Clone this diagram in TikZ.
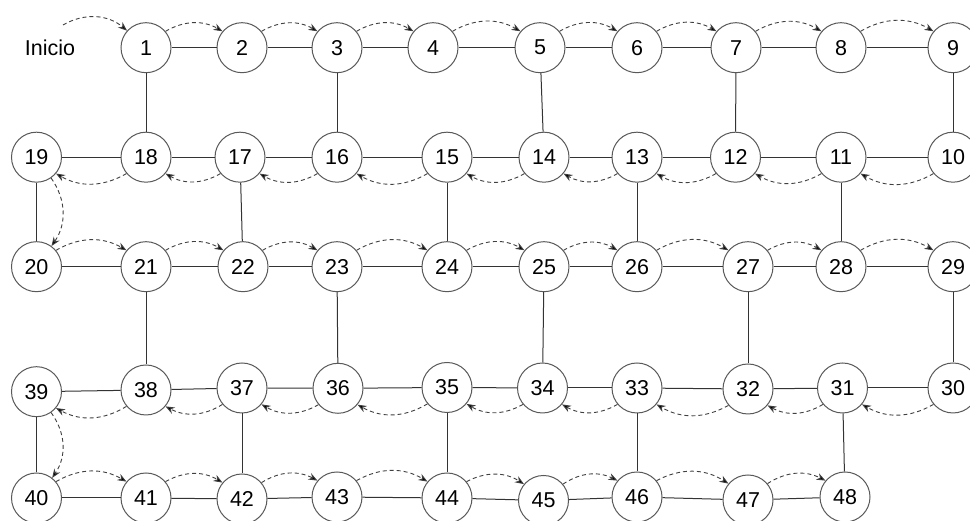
\documentclass[tikz,border=0pt]{standalone}
\usepackage{fontspec}
\setmainfont{Liberation Sans}
\usetikzlibrary{arrows.meta}
\begin{document}
\begin{tikzpicture}[x=1pt,y=1pt,
  st/.style={circle,draw=black!65,line width=1pt,minimum size=50pt,inner sep=0pt,fill=white,font=\fontsize{21.5}{25}\selectfont},
  ln/.style={draw=black!80,line width=1pt},
  da/.style={draw=black!75,line width=0.9pt,dash pattern=on 4pt off 3pt,-{Stealth[length=9pt,width=7pt,fill=black]}}]
\clip (0,0) rectangle (970,521);
\fill[white] (0,0) rectangle (970,521);
% nodes
\foreach \n/\x/\y in {
  1/146/473.3, 2/242/473.3, 3/337/473.3, 4/433/473.3, 5/540/473.3, 6/637/473.3, 7/736/473.3, 8/841/473.3, 9/953/473.3,
  19/36.5/363.8, 18/146/363.8, 17/240/363.8, 16/337/363.8, 15/447/363.8, 14/544/363.8, 13/637/363.8, 12/735.5/363.8, 11/841/363.8, 10/953/363.8,
  20/36.5/254.3, 21/146/254.3, 22/243/254.3, 23/337/254.3, 24/447/254.3, 25/544/254.3, 26/637/254.3, 27/748/254.3, 28/841/254.3, 29/953/254.3,
  39/36.5/129.3, 38/146/131, 37/242/133, 36/338/132.7, 35/447/133.5, 34/542.5/133, 33/637/133, 32/748/132, 31/842.5/133, 30/953/133,
  40/36.5/23, 41/146/23, 42/242/22, 43/337/24, 44/447/23, 45/543.5/20.5, 46/637/24, 47/748/21, 48/845/24}
  \node[st] (n\n) at (\x,\y) {\n};
\node[font=\fontsize{21.5}{25}\selectfont] (inicio) at (50,473.3) {Inicio};
\coordinate (start) at (63,496);
% solid edges
\foreach \a/\b in {1/2,2/3,3/4,4/5,5/6,6/7,7/8,8/9,
  19/18,18/17,17/16,16/15,15/14,14/13,13/12,12/11,11/10,
  20/21,21/22,22/23,23/24,24/25,25/26,26/27,27/28,28/29,
  39/38,38/37,37/36,36/35,35/34,34/33,33/32,32/31,31/30,
  40/41,41/42,42/43,43/44,44/45,45/46,46/47,47/48,
  1/18,3/16,5/14,7/12,9/10,19/20,17/22,15/24,13/26,11/28,
  21/38,23/36,25/34,27/32,29/30,39/40,37/42,35/44,33/46,31/48}
  \draw[ln] (n\a) -- (n\b);
% dashed forward (above)
\foreach \a/\b in {1/2,2/3,3/4,4/5,5/6,6/7,7/8,8/9,
  20/21,21/22,22/23,23/24,24/25,25/26,26/27,27/28,28/29,
  40/41,41/42,42/43,43/44,44/45,45/46,46/47,47/48}
  \draw[da] (n\a.40) to[bend left=30] (n\b.140);
% dashed backward (below)
\foreach \a/\b in {10/11,11/12,12/13,13/14,14/15,15/16,16/17,17/18,18/19,
  30/31,31/32,32/33,33/34,34/35,35/36,36/37,37/38,38/39}
  \draw[da] (n\a.220) to[bend left=30] (n\b.320);
% dashed downward
\draw[da] (n19.305) to[bend left=35] (n20.54);
\draw[da] (n39.305) to[bend left=35] (n40.52);
% start arrow
\draw[da] (start) to[bend left=35] (n1.138);
\end{tikzpicture}
\end{document}
